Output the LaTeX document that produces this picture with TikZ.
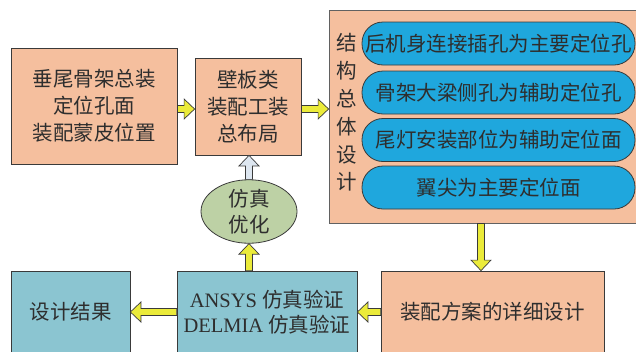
\documentclass[tikz,border=0pt]{standalone}
\usepackage{fontspec}
\setmainfont{Liberation Serif}
\newfontfamily\cjk{Noto Sans CJK SC}
\usetikzlibrary{calc}
\definecolor{salmon}{HTML}{F5BF9E}
\definecolor{pillblue}{HTML}{1FA7DD}
\definecolor{tealbox}{HTML}{8BC5D1}
\definecolor{greenell}{HTML}{BDD1A5}
\definecolor{yelarr}{HTML}{EBEB3A}
\definecolor{whitearr}{HTML}{DDE6F0}
\definecolor{txt}{HTML}{2E2E2E}
\definecolor{edge}{HTML}{3A3A3A}
\tikzset{
  base/.style={draw=edge, line width=0.8pt, inner sep=0pt, align=center, text=txt,
    font=\cjk\fontsize{20.5}{27}\selectfont},
  sbox/.style={base, fill=salmon},
  tbox/.style={base, fill=tealbox},
  pill/.style={base, fill=pillblue, rounded corners=21pt, minimum width=273, minimum height=43},
  ellbox/.style={base, fill=greenell, ellipse},
  yarr/.style={draw=edge, line width=0.7pt, fill=yelarr, line join=miter},
  warr/.style={draw=edge, line width=0.7pt, fill=whitearr, line join=miter},
}
\usetikzlibrary{shapes.geometric}
\newcommand{\blkarrow}[3]{%
  \path let \p1=(#2), \p2=(#3) in \pgfextra{%
    \pgfmathsetmacro{\baangtmp}{atan2(\y2-\y1,\x2-\x1)}%
    \pgfmathsetmacro{\balentmp}{veclen(\x2-\x1,\y2-\y1)}%
    \xdef\baang{\baangtmp}\xdef\balen{\balentmp}%
    \xdef\bax{\x1}\xdef\bay{\y1}};
  \draw[#1, shift={(\bax,\bay)}, rotate=\baang]
    (0pt,-3.5pt) -- ({\balen pt-10.5pt},-3.5pt) -- ({\balen pt-10.5pt},-10pt)
    -- (\balen pt,0pt) -- ({\balen pt-10.5pt},10pt) -- ({\balen pt-10.5pt},3.5pt)
    -- (0pt,3.5pt) -- cycle;
}
\begin{document}
\begin{tikzpicture}[x=1pt,y=-1pt]
\useasboundingbox (0,0) rectangle (636,351);
% top row
\node[sbox, minimum width=166, minimum height=116] (pos) at (94,106)
  {垂尾骨架总装\\定位孔面\\装配蒙皮位置};
\node[sbox, minimum width=106, minimum height=97] (lay) at (248,106.5)
  {壁板类\\装配工装\\总布局};
\node[sbox, draw=edge!80, minimum width=321, minimum height=213] (big) at (489.5,116.5) {};
\node[base, draw=none, font=\cjk\fontsize{20.5}{27.8}\selectfont] (vt) at (347,112.5)
  {结\\构\\总\\体\\设\\计};
\node[pill] (p1) at (498.5,43.5) {后机身连接插孔为主要定位孔};
\node[pill] (p2) at (498.5,92.5) {骨架大梁侧孔为辅助定位孔};
\node[pill] (p3) at (498.5,140) {尾灯安装部位为辅助定位面};
\node[pill] (p4) at (498.5,187.5) {翼尖为主要定位面};
% middle
\node[ellbox, minimum width=96, minimum height=63, font=\cjk\fontsize{20.5}{26}\selectfont] (opt) at (249,211.5)
  {仿真\\优化};
% bottom row
\node[tbox, minimum width=119, minimum height=82] (res) at (70.5,312) {设计结果};
\node[tbox, minimum width=180, minimum height=82, font=\fontsize{20.5}{25}\selectfont] (sim) at (267,312)
  {ANSYS {\cjk 仿真验证}\\DELMIA {\cjk 仿真验证}};
\node[sbox, minimum width=223, minimum height=82] (det) at (492.5,312) {装配方案的详细设计};
\coordinate (dx) at (481,240);
\coordinate (ay) at (0,109);
% arrows
\blkarrow{yarr}{pos.east |- ay}{lay.west |- ay}
\blkarrow{yarr}{lay.east |- ay}{big.west |- ay}
\blkarrow{warr}{opt.north}{opt.north |- lay.south}
\blkarrow{yarr}{opt.south |- sim.north}{opt.south}
\blkarrow{yarr}{big.south -| dx}{det.north -| dx}
\blkarrow{yarr}{det.west}{sim.east}
\blkarrow{yarr}{sim.west}{res.east}
\end{tikzpicture}
\end{document}
